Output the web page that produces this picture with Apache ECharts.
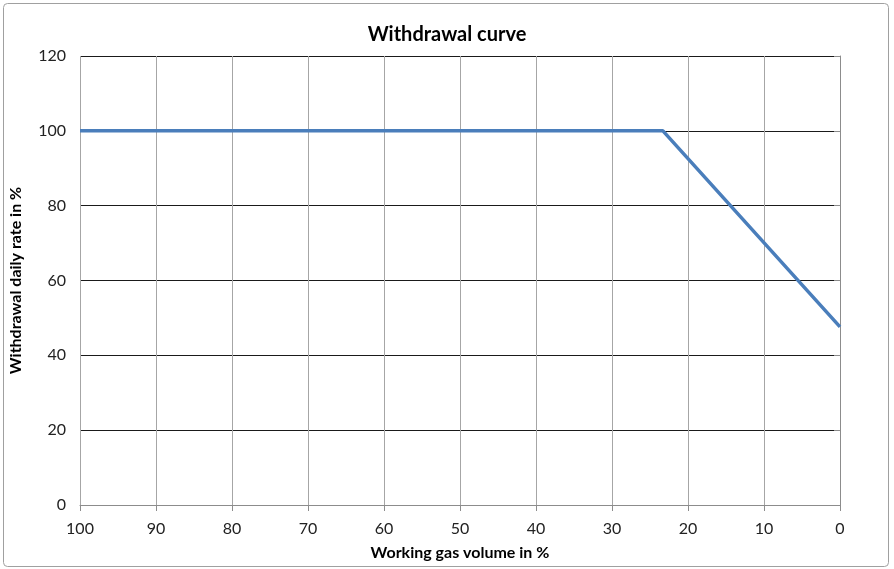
<!DOCTYPE html>
<html><head><meta charset="utf-8">
<script src="https://cdn.jsdelivr.net/npm/echarts@6/dist/echarts.min.js"></script>
<style>html,body{margin:0;padding:0;background:#fff}#c{width:894px;height:569px}</style>
</head><body><div id="c"></div>
<script>
const volume = [100, 24, 23.3, 0];
const rate = [100, 100, 100, 47.6];
const xTicks = [0, 100, 10];
const yTicks = [0, 120, 20];
const title = 'Withdrawal curve';
const xName = 'Working gas volume in %';
const yName = 'Withdrawal daily rate in %';

const chart = echarts.init(document.getElementById('c'));
const font = 'Lato, "Open Sans", sans-serif';
chart.setOption({
  animation: false,
  title: {text: title, left: 'center', top: 20, textStyle: {fontFamily: font, fontSize: 20, fontWeight: 'bold', color: '#000'}},
  graphic: [{type: 'rect', shape: {x: 3.5, y: 3.5, width: 885, height: 563, r: 4}, style: {fill: 'none', stroke: '#a0a0a0', lineWidth: 1}}],
  grid: {left: 80, right: 54, top: 56, bottom: 64},
  xAxis: {type: 'value', inverse: true, min: xTicks[0], max: xTicks[1], interval: xTicks[2],
    name: xName, nameLocation: 'middle', nameGap: 40,
    nameTextStyle: {fontFamily: font, fontSize: 16, fontWeight: 'bold', color: '#000'},
    axisLine: {show: true, lineStyle: {color: '#8c8c8c', width: 1}},
    axisTick: {show: true, length: 6, lineStyle: {color: '#8c8c8c'}},
    axisLabel: {fontFamily: font, fontSize: 16, color: '#222', margin: 16},
    splitLine: {show: true, lineStyle: {color: '#a6a6a6', width: 1}}},
  yAxis: {type: 'value', min: yTicks[0], max: yTicks[1], interval: yTicks[2],
    name: yName, nameLocation: 'middle', nameGap: 56, nameRotate: 90,
    nameTextStyle: {fontFamily: font, fontSize: 16, fontWeight: 'bold', color: '#000'},
    axisLine: {show: true, lineStyle: {color: '#8c8c8c', width: 1}},
    axisTick: {show: true, length: 6, lineStyle: {color: '#8c8c8c'}},
    axisLabel: {fontFamily: font, fontSize: 16, color: '#222', margin: 14},
    splitLine: {show: true, lineStyle: {color: '#1a1a1a', width: 1}}},
  series: [{type: 'line', data: volume.map((v, i) => [v, rate[i]]), showSymbol: false, smooth: false,
    lineStyle: {color: '#4a7ebb', width: 3.5}}]
});
</script></body></html>
